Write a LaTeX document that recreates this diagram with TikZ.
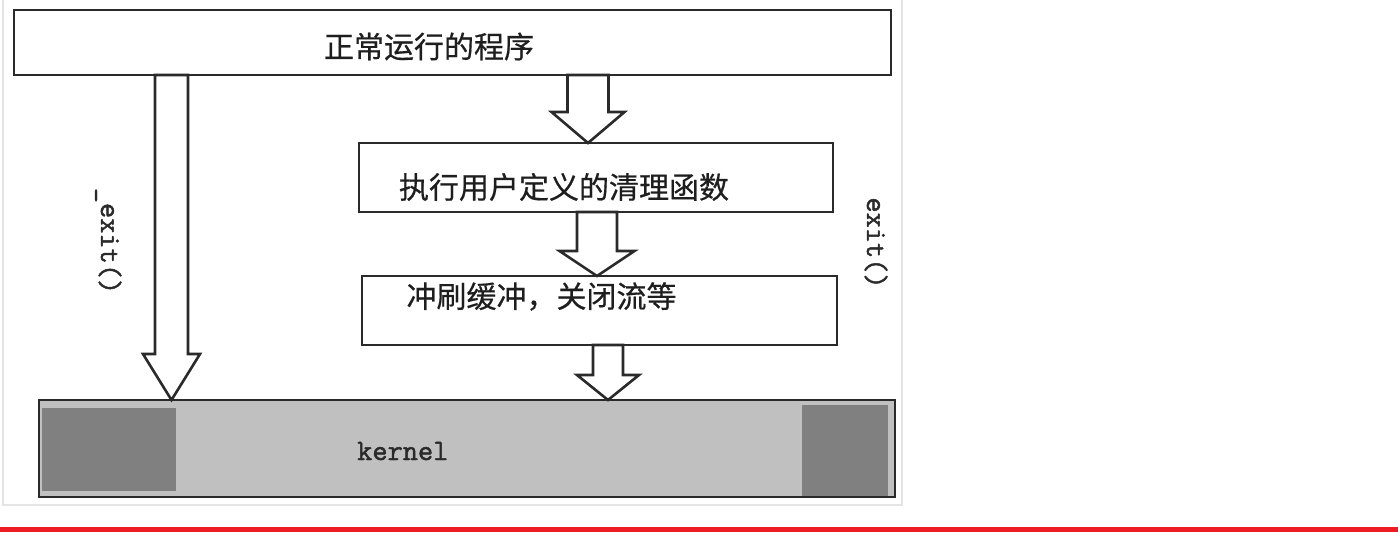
\documentclass[tikz,border=0pt]{standalone}
\usepackage{fontspec}
\newfontfamily\cjk[FakeBold=0.5]{Noto Sans CJK SC}
\newfontfamily\kmono[FakeBold=1.6]{Latin Modern Mono}
\usetikzlibrary{calc}
\definecolor{ink}{HTML}{2A2A2A}
\definecolor{txt}{HTML}{1E1E1E}
\definecolor{kgray}{HTML}{C0C0C0}
\definecolor{dgray}{HTML}{808080}
\definecolor{frame}{HTML}{E4E4E4}
\definecolor{redbar}{HTML}{ED1C24}
\tikzset{
  box/.style={draw=ink, line width=2.8pt, fill=white, rectangle, inner sep=0pt, outer sep=0pt},
  cjklabel/.style={font=\cjk\fontsize{30}{34}\selectfont, text=txt, inner sep=0pt},
  monolabel/.style={font=\kmono\fontsize{29.5}{32}\selectfont, text=ink, inner sep=0pt},
  arrowbody/.style={draw=ink, line width=2.6pt, fill=white, line join=miter},
  block/.style={fill=dgray, draw=none}
}
\newcommand\blockarrow[6]{%
  \path let \p1=(#1.south), \p2=(#2.north) in
    [arrowbody] ({(#3-#4)*1pt},\y1) -- ({(#3+#4)*1pt},\y1)
    -- ({(#3+#4)*1pt},{\y2+#6*1pt}) -- ({(#3+#5)*1pt},{\y2+#6*1pt})
    -- ({#3*1pt},\y2) -- ({(#3-#5)*1pt},{\y2+#6*1pt})
    -- ({(#3-#4)*1pt},{\y2+#6*1pt}) -- cycle;}
\begin{document}
\begin{tikzpicture}[x=1pt,y=-1pt]
\useasboundingbox (0,0) rectangle (1398,541);
% outer light frame and red bar
\draw[frame, line width=1.5pt] (3,-2) -- (3,505) -- (902,505) -- (902,-2);
\fill[redbar] (0,527) rectangle (1398,532);

% boxes
\node[box, minimum width=877pt, minimum height=65pt] (prog) at (452.5,42.5) {};
\node[cjklabel] (progt) at (429,46.5) {正常运行的程序};

\node[box, minimum width=474pt, minimum height=69pt] (clean) at (596,177.5) {};
\node[cjklabel] (cleant) at (564,187) {执行用户定义的清理函数};

\node[box, minimum width=475pt, minimum height=69pt] (flush) at (599.5,310.5) {};
\node[cjklabel] (flusht) at (541.5,296.5) {冲刷缓冲，关闭流等};

\node[box, fill=kgray, minimum width=856pt, minimum height=97pt] (kernel) at (467,448.5) {};
\fill[block] (42,408) rectangle (176,491);
\fill[block] (802,405) rectangle (888,496);
\node[monolabel, anchor=base west] (kernelt) at (357,460) {kernel};

% block arrows
\blockarrow{prog}{kernel}{171.5}{16.5}{28.5}{46}
\blockarrow{prog}{clean}{588}{20.5}{36.5}{31}
\blockarrow{clean}{flush}{597}{20}{37.5}{25}
\blockarrow{flush}{kernel}{608}{15}{31}{25}

% side labels
\node[monolabel, rotate=-90, anchor=base] (uexit) at (101,241) {\_exit()};
\node[monolabel, rotate=-90, anchor=base] (exit) at (867,243) {exit()};
\end{tikzpicture}
\end{document}
